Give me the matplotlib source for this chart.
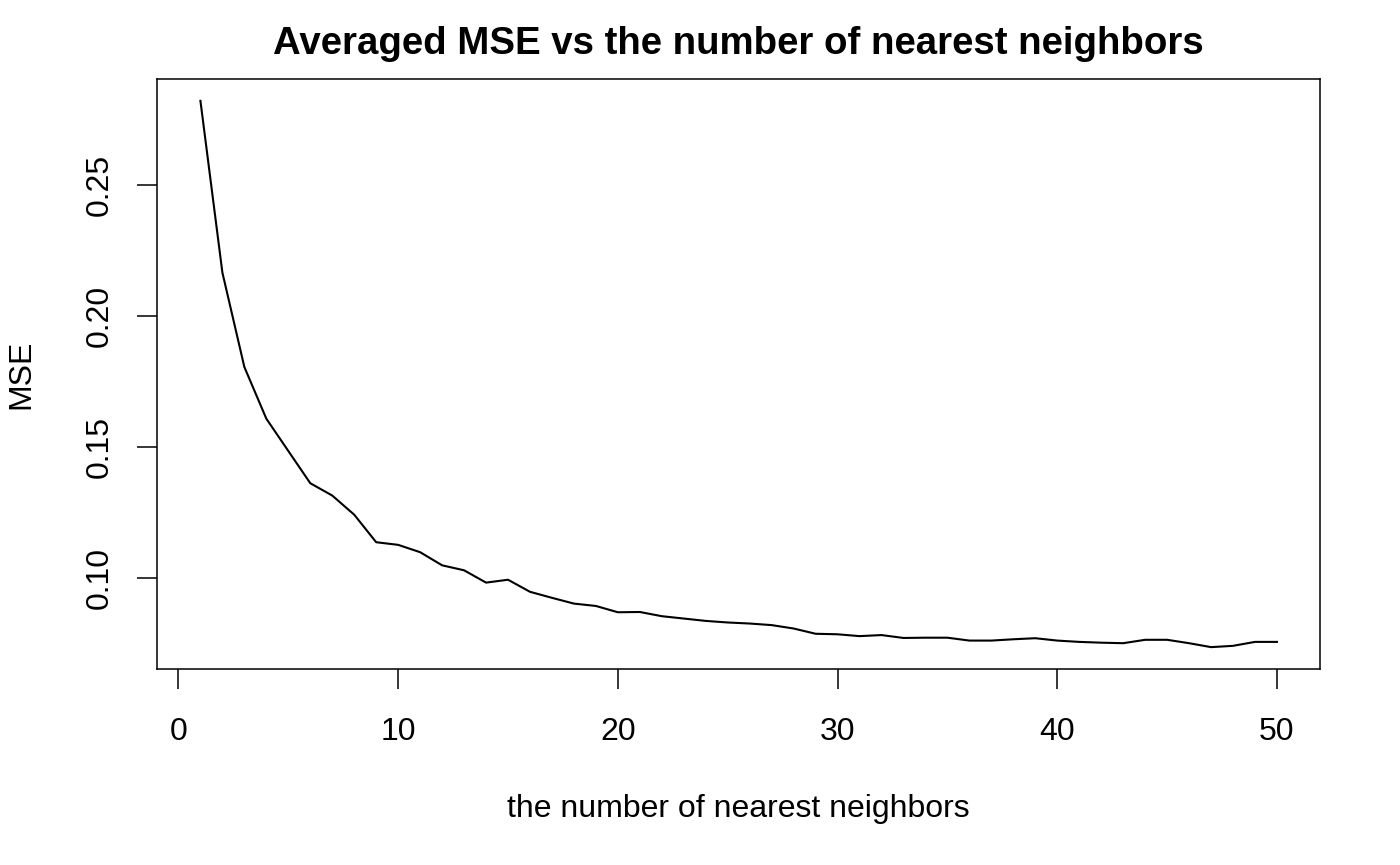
import numpy as np
import matplotlib
matplotlib.use("Agg")
from matplotlib import pyplot as plt

plt.rcParams['font.family'] = ['Liberation Sans', 'DejaVu Sans']

k = np.arange(1, 51)
mse = [0.2820, 0.2165, 0.1805, 0.1608, 0.1485, 0.1362, 0.1315, 0.1242, 0.1137, 0.1127,
       0.1099, 0.1049, 0.1030, 0.0983, 0.0994, 0.0948, 0.0925, 0.0903, 0.0894, 0.0870,
       0.0871, 0.0855, 0.0846, 0.0837, 0.0831, 0.0827, 0.0821, 0.0808, 0.0788, 0.0786,
       0.0779, 0.0783, 0.0772, 0.0773, 0.0773, 0.0762, 0.0762, 0.0767, 0.0771, 0.0762,
       0.0757, 0.0754, 0.0752, 0.0765, 0.0765, 0.0752, 0.0737, 0.0742, 0.0757, 0.0757]

xticks = [0, 10, 20, 30, 40, 50]
yticks = [0.10, 0.15, 0.20, 0.25]

fig = plt.figure(figsize=(14, 8.65), dpi=100)
ax = fig.add_axes([0.1124, 0.2266, 0.8305, 0.6821])
ax.plot(k, mse, color='black', linewidth=1.5)

# R style: 4% padding on both axes
xpad = (max(k) - min(k)) * 0.04
ypad = (max(mse) - min(mse)) * 0.04
ax.set_xlim(min(k) - xpad, max(k) + xpad)
ax.set_ylim(min(mse) - ypad, max(mse) + ypad)

ax.set_xticks(xticks)
ax.set_yticks(yticks)
ax.set_xticklabels([str(t) for t in xticks])
ax.set_yticklabels(['%.2f' % t for t in yticks], rotation=90, va='center')
ax.tick_params(length=14.4, width=1.1, labelsize=23, color='black')
ax.tick_params(axis='x', pad=20)
ax.tick_params(axis='y', pad=16)
for s in ax.spines.values():
    s.set_linewidth(1.1)

ax.set_title('Averaged MSE vs the number of nearest neighbors',
             fontsize=27.6, fontweight='bold', pad=18)
ax.set_xlabel('the number of nearest neighbors', fontsize=23, labelpad=34)
ax.set_ylabel('MSE', fontsize=23, labelpad=35)

fig.savefig('out.png', dpi=100)
